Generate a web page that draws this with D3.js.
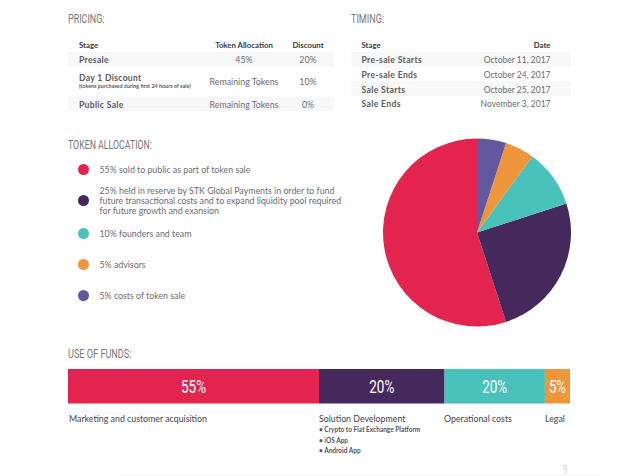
<!DOCTYPE html>
<html>
<head>
<meta charset="utf-8">
<script src="https://cdn.jsdelivr.net/npm/d3@7"></script>
<style>
  html, body { margin: 0; padding: 0; background: #fff; }
  svg { display: block; }
</style>
</head>
<body>
<div id="my_dataviz"></div>
<script>
// chart values
var pricingHead = ["Stage", "Token Allocation", "Discount"];
var pricingStage = ["Presale", "Day 1 Discount", "Public Sale"];
var pricingAlloc = ["45%", "Remaining Tokens", "Remaining Tokens"];
var pricingDiscount = ["20%", "10%", "0%"];
var pricingNote = "(tokens purchased during first 24 hours of sale)";

var timingHead = ["Stage", "Date"];
var timingStage = ["Pre-sale Starts", "Pre-sale Ends", "Sale Starts", "Sale Ends"];
var timingDate = ["October 11, 2017", "October 24, 2017", "October 25, 2017", "November 3, 2017"];

var allocValues = [55, 25, 10, 5, 5];
var allocText = [
  ["55% sold to public as part of token sale"],
  ["25% held in reserve by STK Global Payments in order to fund",
   "future transactional costs and to expand liquidity pool required",
   "for future growth and exansion"],
  ["10% founders and team"],
  ["5% advisors"],
  ["5% costs of token sale"]
];
var allocColors = ["#e3244f", "#46295c", "#48c2bb", "#ef963b", "#63589f"];

var fundLabels = ["55%", "20%", "20%", "5%"];
var fundWidths = [50, 25, 20, 5]; // widths as drawn in the picture, not the printed labels
var fundNames = ["Marketing and customer acquisition", "Solution Development", "Operational costs", "Legal"];
var fundColors = ["#e3244f", "#46295c", "#48c2bb", "#ef963b"];
var solutionItems = ["Crypto to Fiat Exchange Platform", "iOS App", "Android App"];

var bodyFont = "Lato, sans-serif";
var headFont = "Roboto, sans-serif";
var textGrey = "#6e6c74", darkText = "#3a3a40", band = "#f8f8f8";

var svg = d3.select("#my_dataviz")
  .append("svg")
    .attr("width", 640)
    .attr("height", 476);

// faint shadow along the bottom of the page
svg.append("rect")
    .attr("x", 120).attr("y", 474.5)
    .attr("width", 480).attr("height", 1.5)
    .attr("fill", "#f6f6f6");

// headings are a condensed face, squeezed to the measured width
function heading(t, x, y, w) {
  svg.append("text")
    .attr("x", x).attr("y", y)
    .attr("font-family", headFont)
    .attr("font-size", 13)
    .attr("fill", "#77777b")
    .attr("textLength", w)
    .attr("lengthAdjust", "spacingAndGlyphs")
    .text(t);
}
function label(t, x, y, size, weight, fill, anchor, spacing) {
  return svg.append("text")
    .attr("x", x).attr("y", y)
    .attr("font-family", bodyFont)
    .attr("font-size", size)
    .attr("font-weight", weight)
    .attr("fill", fill)
    .attr("letter-spacing", spacing || 0)
    .attr("text-anchor", anchor || "start")
    .text(t);
}

// pricing table
heading("PRICING:", 68, 23, 36.5);
var pricingRowY = [63, 81, 107.5];
svg.selectAll("rect.pband").data([0, 2]).enter().append("rect")
    .attr("class", "pband")
    .attr("x", 68).attr("width", 266)
    .attr("y", function(d) { return d == 0 ? 52 : 96.5; })
    .attr("height", 14.5)
    .attr("fill", band);
label(pricingHead[0], 79, 48, 7.8, 700, darkText);
label(pricingHead[1], 244, 48, 7.8, 700, darkText, "middle");
label(pricingHead[2], 308, 48, 7.8, 700, darkText, "middle");
pricingStage.forEach(function(s, i) {
  label(s, 79, pricingRowY[i], 8.6, 700, "#5c5a62", "start", 0.3);
});
label(pricingNote, 79, 88, 5.4, 700, "#5c5a62");
var pricingValueY = [63, 85, 107.5];
pricingAlloc.forEach(function(s, i) {
  label(s, 244, pricingValueY[i], 8.8, 400, textGrey, "middle");
});
pricingDiscount.forEach(function(s, i) {
  label(s, 308, pricingValueY[i], 8.8, 400, textGrey, "middle");
});

// timing table
heading("TIMING:", 351, 23, 33);
var timingY = d3.scaleBand().domain(d3.range(timingStage.length)).range([52, 111]);
svg.selectAll("rect.tband").data([0, 2]).enter().append("rect")
    .attr("class", "tband")
    .attr("x", 351).attr("width", 220)
    .attr("y", function(d) { return timingY(d); })
    .attr("height", timingY.bandwidth())
    .attr("fill", band);
label(timingHead[0], 361.5, 48, 7.8, 700, darkText);
label(timingHead[1], 550.5, 48, 7.8, 700, darkText, "end");
timingStage.forEach(function(s, i) {
  label(s, 361.5, timingY(i) + 11, 8.6, 700, "#5c5a62", "start", 0.35);
  label(timingDate[i], 550.5, timingY(i) + 11, 8.5, 400, textGrey, "end");
});

// token allocation legend
heading("TOKEN ALLOCATION:", 68, 148.5, 84);
var legendY = [170, 201, 234, 265, 296];
allocValues.forEach(function(v, i) {
  svg.append("circle")
    .attr("cx", 83.5).attr("cy", legendY[i] - 0.5)
    .attr("r", 5.5)
    .attr("fill", allocColors[i]);
  var lines = allocText[i];
  lines.forEach(function(t, j) {
    label(t, 99.5, legendY[i] + 3 + (j - (lines.length - 1) / 2) * 10.3, 8.8, 400, textGrey);
  });
});

// pie, clockwise from the top starting with the last slice
var arc = d3.arc().innerRadius(0).outerRadius(94);
var pie = d3.pie()
  .sort(function(a, b) { return b - a; })
  .value(function(i) { return allocValues[i]; });
svg.append("g")
    .attr("transform", "translate(477,232.5)")
  .selectAll("path")
  .data(pie(d3.range(allocValues.length)))
  .enter()
  .append("path")
    .attr("d", arc)
    .attr("fill", function(d) { return allocColors[d.data]; });

// use of funds bar
heading("USE OF FUNDS:", 68, 357.5, 63.5);
var x = d3.scaleLinear().domain([0, d3.sum(fundWidths)]).range([68, 570]);
var fundStart = d3.cumsum([0].concat(fundWidths));
var fundNameX = [69, 319, 444, 545];
svg.selectAll("rect.fund").data(fundWidths).enter().append("rect")
    .attr("class", "fund")
    .attr("x", function(d, i) { return x(fundStart[i]); })
    .attr("y", 369)
    .attr("width", function(d) { return x(d) - x(0); })
    .attr("height", 34.5)
    .attr("fill", function(d, i) { return fundColors[i]; });
svg.selectAll("text.fundpct").data(fundLabels).enter().append("text")
    .attr("class", "fundpct")
    .attr("x", function(d, i) { return x(fundStart[i] + fundWidths[i] / 2) - (d.length == 3 ? 12.5 : 8.5); })
    .attr("y", 392.7)
    .attr("font-family", headFont)
    .attr("font-size", 18)
    .attr("fill", "#fff")
    .attr("textLength", function(d) { return d.length == 3 ? 25 : 17; })
    .attr("lengthAdjust", "spacingAndGlyphs")
    .text(function(d) { return d; });
fundNames.forEach(function(s, i) {
  label(s, fundNameX[i], 422, 8.8, 400, "#44434a");
});
var itemY = [432, 442.5, 453];
solutionItems.forEach(function(s, i) {
  label("\u2022 " + s, 319, itemY[i], 6.5, 700, "#55545a");
});

// page number
svg.append("text")
    .attr("x", 563).attr("y", 473)
    .attr("font-family", headFont)
    .attr("font-size", 11)
    .attr("fill", "#d0d0d0")
    .attr("textLength", 4.5)
    .attr("lengthAdjust", "spacingAndGlyphs")
    .text("9");
</script>
</body>
</html>
